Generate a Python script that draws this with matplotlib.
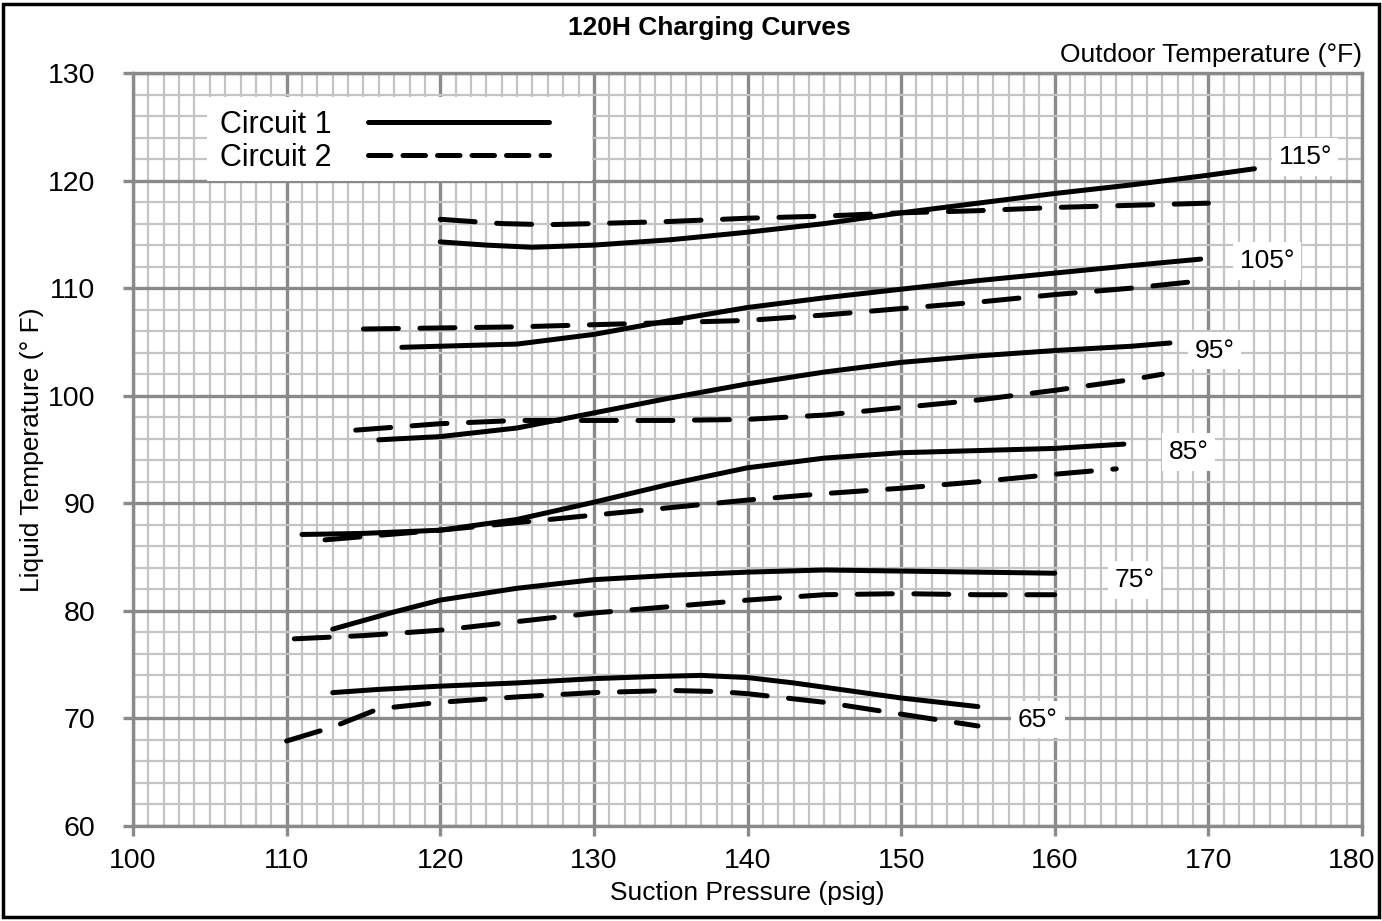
import matplotlib
matplotlib.use("Agg")
import matplotlib.pyplot as plt
from matplotlib.patches import Rectangle
from matplotlib.lines import Line2D
from matplotlib.transforms import ScaledTranslation

plt.rcParams['font.family'] = ['Liberation Sans', 'DejaVu Sans']

# ---------------- data ----------------
labels = ["115°", "105°", "95°", "85°", "75°", "65°"]
label_x = [176.3, 173.8, 170.4, 168.7, 165.2, 158.9]
label_y = [122.2, 112.5, 104.2, 94.8, 82.9, 69.9]

c1_115_x = [120, 123, 126, 130, 135, 140, 145, 150, 155, 160, 165, 170, 173]
c1_115_y = [114.3, 114.0, 113.8, 114.0, 114.5, 115.2, 116.0, 117.0, 117.9, 118.8, 119.6, 120.5, 121.1]
c2_115_x = [120, 124, 127, 130, 135, 140, 145, 150, 155, 160, 165, 170]
c2_115_y = [116.4, 116.0, 115.9, 116.0, 116.2, 116.5, 116.7, 117.0, 117.2, 117.5, 117.7, 117.9]

c1_105_x = [117.5, 120, 125, 130, 135, 140, 145, 150, 155, 160, 165, 169.5]
c1_105_y = [104.5, 104.6, 104.8, 105.7, 107.0, 108.2, 109.1, 109.9, 110.7, 111.4, 112.1, 112.7]
c2_105_x = [115, 120, 125, 130, 135, 140, 145, 150, 155, 160, 165, 169]
c2_105_y = [106.2, 106.3, 106.4, 106.6, 106.8, 107.0, 107.5, 108.1, 108.7, 109.4, 110.0, 110.6]

c1_95_x = [116, 120, 125, 130, 135, 140, 145, 150, 155, 160, 165, 167.5]
c1_95_y = [95.9, 96.2, 97.0, 98.4, 99.8, 101.1, 102.2, 103.1, 103.7, 104.2, 104.6, 104.9]
c2_95_x = [114.5, 120, 125, 130, 135, 140, 145, 150, 155, 160, 165, 167]
c2_95_y = [96.8, 97.4, 97.7, 97.7, 97.7, 97.8, 98.2, 98.9, 99.6, 100.5, 101.5, 102.0]

c1_85_x = [111, 115, 120, 125, 130, 135, 140, 145, 150, 155, 160, 164.5]
c1_85_y = [87.1, 87.2, 87.5, 88.5, 90.1, 91.8, 93.3, 94.2, 94.7, 94.9, 95.1, 95.5]
c2_85_x = [112.5, 120, 125, 130, 135, 140, 145, 150, 155, 160, 164]
c2_85_y = [86.6, 87.5, 88.2, 88.9, 89.6, 90.3, 90.9, 91.4, 92.0, 92.7, 93.2]

c1_75_x = [113, 115, 117, 120, 125, 130, 135, 140, 145, 150, 155, 160]
c1_75_y = [78.3, 79.1, 79.9, 81.0, 82.1, 82.9, 83.3, 83.6, 83.8, 83.7, 83.6, 83.5]
c2_75_x = [110.5, 115, 120, 125, 130, 135, 140, 145, 150, 155, 160]
c2_75_y = [77.4, 77.7, 78.2, 79.0, 79.8, 80.4, 81.0, 81.5, 81.6, 81.5, 81.5]

c1_65_x = [113, 116, 120, 125, 130, 134, 137, 140, 143, 145, 150, 155]
c1_65_y = [72.4, 72.7, 73.0, 73.3, 73.7, 73.9, 74.0, 73.8, 73.3, 72.9, 71.9, 71.1]
c2_65_x = [110, 113, 116, 120, 125, 130, 135, 138, 140, 145, 150, 155]
c2_65_y = [67.9, 69.2, 70.9, 71.5, 72.0, 72.4, 72.6, 72.5, 72.3, 71.5, 70.4, 69.3]

circuit1 = [(c1_115_x, c1_115_y), (c1_105_x, c1_105_y), (c1_95_x, c1_95_y),
            (c1_85_x, c1_85_y), (c1_75_x, c1_75_y), (c1_65_x, c1_65_y)]
circuit2 = [(c2_115_x, c2_115_y), (c2_105_x, c2_105_y), (c2_95_x, c2_95_y),
            (c2_85_x, c2_85_y), (c2_75_x, c2_75_y), (c2_65_x, c2_65_y)]

x_ticks = [100, 110, 120, 130, 140, 150, 160, 170, 180]
y_ticks = [60, 70, 80, 90, 100, 110, 120, 130]

# ---------------- figure ----------------
fig = plt.figure(figsize=(13.82, 9.21), dpi=100)
ax = fig.add_axes([133/1382, 1-826/921, (1362-133)/1382, (826-73)/921])

FS = 19
TFS = 20.5
LFS = 22
major_c = '#8a8a8a'
minor_c = '#c4c4c4'
lw = 3.6
dash = (0, (7.0, 4.3))

ax.set_xlim(100, 180)
ax.set_ylim(60, 130)
ax.set_xticks(x_ticks)
ax.set_yticks(y_ticks)
ax.set_xticks(range(100, 181), minor=True)
ax.set_yticks(range(60, 131, 2), minor=True)
ax.set_axisbelow(True)
ax.grid(which='minor', color=minor_c, lw=1.6)
ax.grid(which='major', color=major_c, lw=2.4)
for s in ax.spines.values():
    s.set_color(major_c)
    s.set_linewidth(2.4)
ax.tick_params(which='major', direction='out', length=7, width=2.4, color=major_c,
               labelsize=TFS)
ax.tick_params(axis='y', which='major', pad=20)
ax.tick_params(axis='x', which='major', pad=9)
ax.tick_params(which='minor', length=0)

# nudge the last x tick label so it stays inside the figure frame
last = ax.get_xticklabels()[-1]
last.set_transform(last.get_transform() + ScaledTranslation(-10/100, 0, fig.dpi_scale_trans))

for (x, y) in circuit1:
    ax.plot(x, y, color='black', lw=lw, solid_capstyle='round', solid_joinstyle='round', zorder=4)
for (x, y) in circuit2:
    ax.plot(x, y, color='black', lw=lw, linestyle=dash, dash_capstyle='round', zorder=4)

for t, lx, ly in zip(labels, label_x, label_y):
    ax.text(lx, ly, t, fontsize=FS, ha='center', va='center', zorder=5,
            bbox=dict(facecolor='white', edgecolor='none', pad=5))

# legend box
ax.add_patch(Rectangle((104.8, 120.0), 25.1, 7.8, facecolor='white', edgecolor='none', zorder=3))
handles = [Line2D([], [], color='black', lw=lw, solid_capstyle='round'),
           Line2D([], [], color='black', lw=lw, linestyle=(0, (4.5, 2.4)), dash_capstyle='round')]
ax.legend(handles, ['Circuit 1', 'Circuit 2'], loc='upper left',
          bbox_to_anchor=((211-133)/1229, 1-(101-73)/753), frameon=False,
          markerfirst=False, handlelength=5.9, handletextpad=1.2,
          fontsize=LFS, labelspacing=0.08, borderpad=0.3, borderaxespad=0)

ax.set_xlabel('Suction Pressure (psig)', fontsize=FS, labelpad=5)
ax.set_ylabel('Liquid Temperature (° F)', fontsize=FS, labelpad=3)

fig.text(709/1382, 1-28/921, '120H Charging Curves', fontsize=FS, fontweight='bold',
         ha='center', va='center')
fig.text(1362/1382, 1-55/921, 'Outdoor Temperature (°F)', fontsize=FS,
         ha='right', va='center')

fig.patches.append(Rectangle((3/1382, 4/921), 1376/1382, 913/921, transform=fig.transFigure,
                             fill=False, edgecolor='black', lw=2.5, zorder=10))

fig.savefig('out.png', dpi=100)
